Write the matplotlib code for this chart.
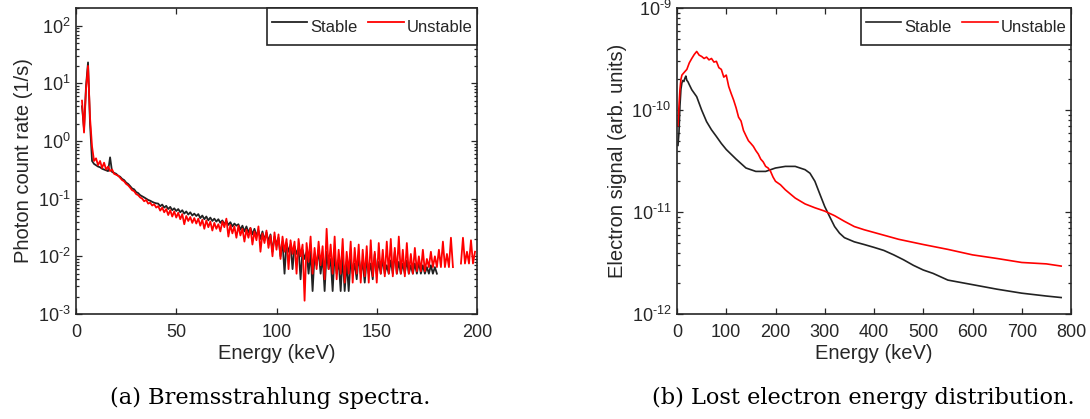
import numpy as np
import matplotlib
matplotlib.use("Agg")
import matplotlib.pyplot as plt
from matplotlib.ticker import LogLocator, NullFormatter, FuncFormatter

plt.rcParams["font.family"] = ["Liberation Sans", "DejaVu Sans"]
plt.rcParams["mathtext.fontset"] = "custom"
plt.rcParams["mathtext.rm"] = "Liberation Sans"

# (a) Bremsstrahlung spectra, 1 keV bins
stable_start, stable_stop = 3, 180
stable_rate = [
    4.0, 1.6, 9.0, 23, 2.0, 0.45, 0.40, 0.38, 0.36, 0.35, 0.33, 0.32, 0.31, 0.30, 0.52, 0.29,
    0.28, 0.27, 0.25, 0.24, 0.22, 0.21, 0.19, 0.18, 0.165, 0.15, 0.145, 0.13, 0.125, 0.115,
    0.11, 0.105, 0.1, 0.095, 0.092, 0.088, 0.085, 0.083,
    0.082, 0.074, 0.079, 0.070, 0.075, 0.066, 0.072, 0.063, 0.068, 0.061,
    0.066, 0.058, 0.063, 0.055, 0.060, 0.053, 0.058, 0.051, 0.055, 0.050,
    0.054, 0.046, 0.051, 0.044, 0.049, 0.042, 0.047, 0.041, 0.045, 0.040,
    0.044, 0.038, 0.042, 0.036, 0.041, 0.035, 0.039, 0.033, 0.037, 0.034,
    0.036, 0.029, 0.034, 0.027, 0.033, 0.026, 0.031, 0.024, 0.030, 0.023,
    0.028, 0.020, 0.027, 0.019, 0.026, 0.018, 0.024, 0.012, 0.022, 0.016,
    0.021, 0.010, 0.018, 0.005, 0.017, 0.012, 0.016, 0.006, 0.015, 0.011,
    0.014, 0.004, 0.013, 0.009, 0.012, 0.005, 0.012, 0.0025, 0.011, 0.007,
    0.013, 0.005, 0.010, 0.0025, 0.012, 0.006, 0.009, 0.0025, 0.011, 0.005,
    0.0085, 0.0025, 0.010, 0.0025, 0.008, 0.0025, 0.009, 0.005, 0.0075, 0.004,
    0.010, 0.005, 0.008, 0.0035, 0.009, 0.005, 0.0075, 0.004, 0.011, 0.005,
    0.008, 0.005, 0.009, 0.005, 0.007, 0.005, 0.0085, 0.005, 0.012, 0.005,
    0.008, 0.005, 0.0075, 0.005, 0.0085, 0.005, 0.007, 0.005, 0.0075, 0.005,
    0.008, 0.005, 0.007, 0.005, 0.0065, 0.005, 0.007, 0.005, 0.0065, 0.005,
]
unstable_start, unstable_stop = 3, 199
unstable_rate = [
    5.0, 1.4, 8.0, 20, 2.5, 0.8, 0.45, 0.5, 0.38, 0.45, 0.34, 0.42, 0.32, 0.36, 0.30, 0.32,
    0.27, 0.26, 0.25, 0.23, 0.21, 0.20, 0.18, 0.17, 0.155, 0.14, 0.135, 0.12, 0.115, 0.105,
    0.10, 0.09, 0.095, 0.082, 0.085, 0.076, 0.080, 0.070,
    0.074, 0.062, 0.070, 0.058, 0.066, 0.052, 0.063, 0.049, 0.060, 0.047,
    0.057, 0.044, 0.054, 0.036, 0.050, 0.041, 0.048, 0.038, 0.046, 0.037,
    0.045, 0.034, 0.043, 0.030, 0.042, 0.032, 0.040, 0.028, 0.038, 0.030,
    0.036, 0.027, 0.040, 0.032, 0.045, 0.022, 0.035, 0.025, 0.033, 0.021,
    0.034, 0.023, 0.030, 0.018, 0.029, 0.021, 0.031, 0.016, 0.027, 0.019,
    0.033, 0.012, 0.025, 0.017, 0.028, 0.014, 0.023, 0.010, 0.026, 0.013,
    0.024, 0.009, 0.022, 0.012, 0.020, 0.006, 0.019, 0.011, 0.018, 0.005,
    0.020, 0.010, 0.016, 0.0017, 0.017, 0.008, 0.022, 0.005, 0.014, 0.006,
    0.018, 0.007, 0.015, 0.004, 0.030, 0.006, 0.016, 0.005, 0.022, 0.004,
    0.013, 0.005, 0.020, 0.0035, 0.012, 0.005, 0.018, 0.0035, 0.014, 0.005,
    0.016, 0.0035, 0.013, 0.0045, 0.015, 0.0035, 0.019, 0.0045, 0.012, 0.0035,
    0.017, 0.005, 0.013, 0.0045, 0.018, 0.005, 0.020, 0.0045, 0.014, 0.005,
    0.022, 0.005, 0.013, 0.0045, 0.017, 0.005, 0.011, 0.005, 0.014, 0.0055,
    0.010, 0.0055, 0.013, 0.0055, 0.009, 0.0065, 0.012, 0.0065, 0.010, 0.0065,
    0.013, 0.0065, 0.018, 0.0065, 0.011, 0.0065, 0.021, 0.0065, np.nan, 0.0065,
    np.nan, 0.0075, 0.021, 0.0075, 0.012, 0.0075, 0.019, 0.0075, 0.012,
]

# (b) Lost electron energy distribution
stable_e = [2, 4, 6, 8, 10, 12, 14, 16, 18, 20, 22, 25, 30, 40, 50, 60, 70, 80, 90, 100,
            120, 140, 160, 180, 200, 220, 240, 260, 270, 280, 290, 300, 310, 320, 330, 340,
            360, 380, 400, 420, 440, 460, 480, 500, 520, 550, 600, 650, 700, 750, 780]
stable_sig = [4.5e-11, 6e-11, 1.1e-10, 1.6e-10, 1.85e-10, 1.95e-10, 1.9e-10, 2.05e-10,
              2.15e-10, 1.95e-10, 1.9e-10, 1.77e-10, 1.58e-10, 1.35e-10, 1.0e-10, 7.7e-11,
              6.4e-11, 5.5e-11, 4.7e-11, 4.1e-11, 3.3e-11, 2.7e-11, 2.5e-11, 2.5e-11, 2.7e-11,
              2.8e-11, 2.8e-11, 2.6e-11, 2.4e-11, 2.0e-11, 1.5e-11, 1.13e-11, 9e-12, 7.2e-12,
              6.2e-12, 5.6e-12, 5.1e-12, 4.8e-12, 4.5e-12, 4.2e-12, 3.8e-12, 3.4e-12, 3.0e-12,
              2.7e-12, 2.5e-12, 2.15e-12, 1.94e-12, 1.75e-12, 1.6e-12, 1.5e-12, 1.45e-12]
unstable_e = [2, 4, 6, 8, 10, 15, 20, 25, 30, 35, 40, 45, 50, 55, 60, 65, 70, 75, 80, 85,
              90, 95, 100, 105, 110, 115, 120, 125, 130, 135, 140, 145, 150, 155, 160, 165,
              170, 175, 180, 185, 190, 195, 200, 210, 220, 240, 260, 280, 300, 320, 340, 360,
              380, 400, 450, 500, 550, 600, 650, 700, 750, 780]
unstable_sig = [7e-11, 1.1e-10, 1.6e-10, 2.0e-10, 2.2e-10, 2.35e-10, 2.5e-10, 2.9e-10,
                3.2e-10, 3.5e-10, 3.75e-10, 3.45e-10, 3.35e-10, 3.2e-10, 3.3e-10, 3.1e-10,
                3.2e-10, 2.95e-10, 3.0e-10, 2.6e-10, 2.5e-10, 2.1e-10, 2.2e-10, 1.7e-10,
                1.45e-10, 1.25e-10, 1.05e-10, 8.5e-11, 7.8e-11, 6.3e-11, 5.6e-11, 5.0e-11,
                4.7e-11, 4.4e-11, 4.0e-11, 3.7e-11, 3.3e-11, 3.1e-11, 2.8e-11, 2.7e-11,
                2.5e-11, 2.2e-11, 2.0e-11, 1.85e-11, 1.65e-11, 1.37e-11, 1.2e-11, 1.1e-11,
                1.02e-11, 9.2e-12, 8.1e-12, 7.2e-12, 6.7e-12, 6.3e-12, 5.4e-12, 4.8e-12,
                4.3e-12, 3.8e-12, 3.5e-12, 3.2e-12, 3.1e-12, 2.95e-12]

labels = ["Stable", "Unstable"]
captions = ["(a) Bremsstrahlung spectra.", "(b) Lost electron energy distribution."]

dark = "#262626"
black_line = "#222222"
red_line = "#ff0000"

fig = plt.figure(figsize=(10.9, 4.19), dpi=100)
ax1 = fig.add_axes([76 / 1090, 1 - 314 / 419, 401 / 1090, 306 / 419])
ax2 = fig.add_axes([677 / 1090, 1 - 314 / 419, 394 / 1090, 306 / 419])

stable_x = np.arange(stable_start, stable_stop + 1)
unstable_x = np.arange(unstable_start, unstable_stop + 1)
ax1.plot(stable_x, stable_rate, color=black_line, lw=1.3, label=labels[0])
ax1.plot(unstable_x, unstable_rate, color=red_line, lw=1.3, label=labels[1])
ax2.plot(stable_e, stable_sig, color=black_line, lw=1.2, label=labels[0])
ax2.plot(unstable_e, unstable_sig, color=red_line, lw=1.2, label=labels[1])

def pow10(v, pos):
    n = int(round(np.log10(v)))
    exp = str(n).replace("-", "\u2010")
    return r"$\mathregular{10^{%s}}$" % exp

for ax in (ax1, ax2):
    ax.set_yscale("log")
    ax.yaxis.set_major_locator(LogLocator(base=10, numticks=20))
    ax.yaxis.set_minor_locator(LogLocator(base=10, subs=np.arange(2, 10), numticks=20))
    ax.yaxis.set_major_formatter(FuncFormatter(pow10))
    ax.yaxis.set_minor_formatter(NullFormatter())
    ax.tick_params(which="both", direction="in", top=True, right=True, colors=dark,
                   labelsize=13, width=0.9)
    ax.tick_params(which="major", length=4.5)
    ax.tick_params(which="minor", length=2.5)
    ax.tick_params(axis="x", pad=7)
    ax.tick_params(axis="y", pad=4)
    for s in ax.spines.values():
        s.set_color(dark)
        s.set_linewidth(1.2)
    ax.set_xlabel("Energy (keV)", fontsize=14.5, color=dark, labelpad=2)
    leg = ax.legend(loc="upper right", ncol=2, fontsize=12, borderaxespad=0,
                    borderpad=0.25, handlelength=2.15, handleheight=2.3,
                    handletextpad=0.2, columnspacing=0.6, fancybox=False,
                    framealpha=1, edgecolor=dark)
    leg.get_frame().set_linewidth(1.2)
    for t in leg.get_texts():
        t.set_color(dark)

ax1.set_xlim(0, 200)
ax1.set_xticks([0, 50, 100, 150, 200])
ax1.set_ylim(1e-3, 2.02e2)
ax1.set_ylabel("Photon count rate (1/s)", fontsize=14.5, color=dark, labelpad=3)

ax2.set_xlim(0, 800)
ax2.set_xticks(np.arange(0, 801, 100))
ax2.set_ylim(1e-12, 1e-9)
ax2.set_ylabel("Electron signal (arb. units)", fontsize=14.5, color=dark, labelpad=3)

fig.text(270 / 1090, 0.05, captions[0], ha="center", va="center",
         fontsize=16.2, family="DejaVu Serif")
fig.text(863 / 1090, 0.05, captions[1], ha="center", va="center",
         fontsize=16.2, family="DejaVu Serif")

fig.savefig("out.png", dpi=100)
